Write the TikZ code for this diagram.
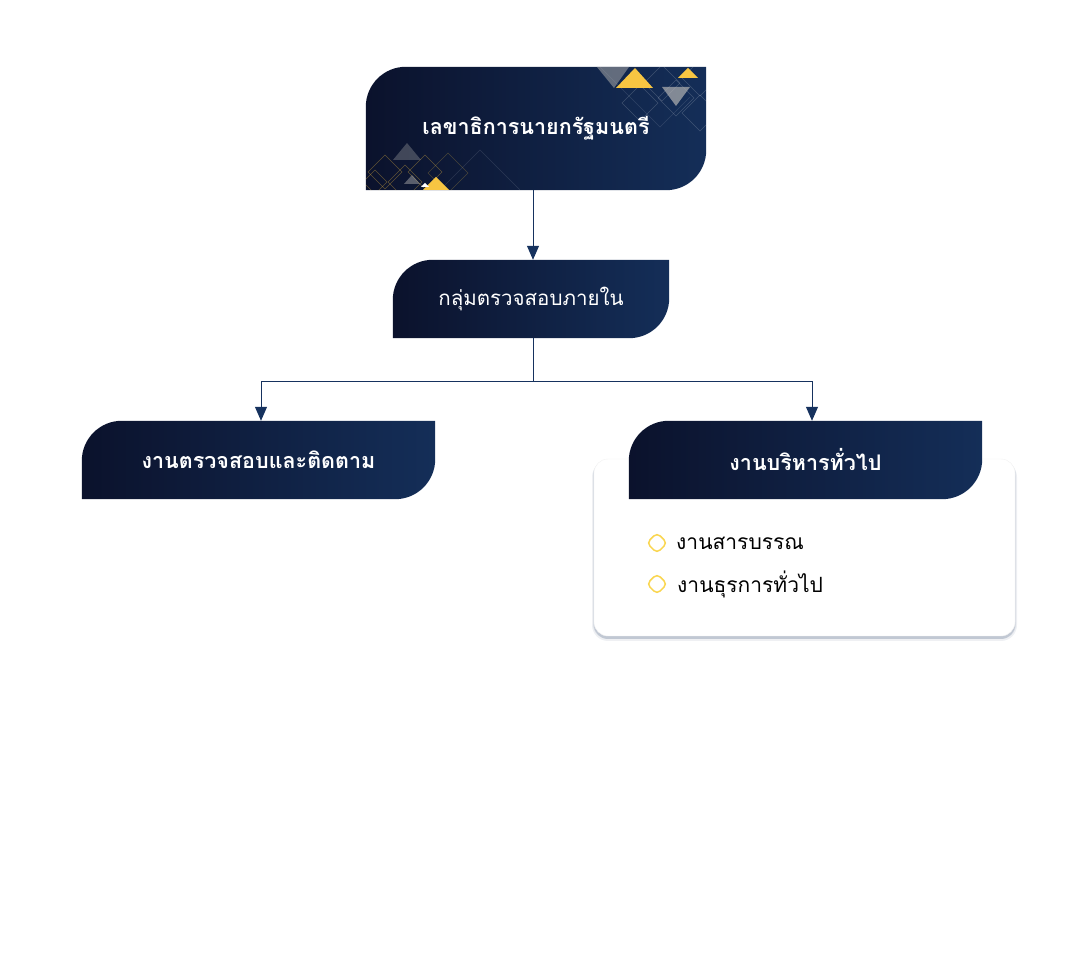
\documentclass[tikz,border=0pt]{standalone}
\usepackage{fontspec}
\newfontfamily\thaifont[Script=Thai]{Loma}
\usepackage{tikz}
\usetikzlibrary{arrows.meta,shapes.geometric,shadows}
\definecolor{navydark}{RGB}{11,18,44}
\definecolor{navylight}{RGB}{20,46,88}
\definecolor{linkblue}{RGB}{22,50,94}
\definecolor{goldtri}{RGB}{247,197,66}
\definecolor{bulletgold}{RGB}{250,214,80}
\definecolor{shadowgray}{RGB}{120,135,160}
\tikzstyle{arrow} = [-{Triangle[length=14pt,width=12pt]},line width=1pt,color=linkblue]
\tikzstyle{tab} = [minimum height=78pt,inner sep=0pt,text=white,font=\thaifont\bfseries\fontsize{21.5}{26}\selectfont]
\tikzstyle{item} = [anchor=west,inner sep=0pt,font=\thaifont\fontsize{21}{25}\selectfont]
\tikzstyle{dot} = [diamond,draw=bulletgold,line width=1.5pt,rounded corners=4.5pt,minimum size=21pt,inner sep=0pt]
\tikzstyle{pattern} = [line width=0.5pt]

\pgfdeclarelayer{cards}
\pgfdeclarelayer{tabs}
\pgfsetlayers{cards,tabs,main}

% tab outline: rounded top left and bottom right
\newcommand{\tabpath}[2]{(#1.south west) -- ([yshift=-#2]#1.north west)
  arc[start angle=180,end angle=90,radius=#2] -- (#1.north east)
  -- ([yshift=#2]#1.south east) arc[start angle=0,end angle=-90,radius=#2] -- cycle}

\begin{document}
\begin{tikzpicture}[x=1pt,y=1pt]
\useasboundingbox (0,0) rectangle (1080,965);

% Boxes
\node[tab, minimum width=340pt, minimum height=123pt] (sec) at (536,836.5) {เลขาธิการนายกรัฐมนตรี};
\node[tab, minimum width=276pt, font=\thaifont\fontsize{20.5}{25}\selectfont] (audit) at (531,666) {กลุ่มตรวจสอบภายใน};
\node[tab, minimum width=353pt] (follow) at (258.5,505) {งานตรวจสอบและติดตาม};
\node[tab, minimum width=353pt] (admin) at (805.5,505) {งานบริหารทั่วไป};

% Card under the admin box
\begin{pgfonlayer}{cards}
\fill[shadowgray, opacity=0.12, rounded corners=16pt] (592,324) rectangle (1017,504);
\fill[shadowgray, opacity=0.18, rounded corners=15pt] (593,326) rectangle (1016,505);
\fill[white, draw=black!5, rounded corners=14pt, drop shadow={shadow xshift=0pt, shadow yshift=-3pt, opacity=0.25, fill=shadowgray}] (594,329) rectangle (1015,506);
\end{pgfonlayer}

% Fills
\begin{pgfonlayer}{tabs}
\shade[left color=navydark, right color=navylight] \tabpath{sec}{40pt};
\shade[left color=navydark, right color=navylight] \tabpath{audit}{40pt};
\shade[left color=navydark, right color=navylight] \tabpath{follow}{40pt};
\shade[left color=navydark, right color=navylight] \tabpath{admin}{40pt};

% Triangles on the top box
\begin{scope}
\clip \tabpath{sec}{40pt};
\draw[pattern, white, opacity=0.18] (640,880) -- (658,862) -- (640,844) -- (622,862) -- cycle;
\draw[pattern, white, opacity=0.18] (676,885) -- (694,867) -- (676,849) -- (658,867) -- cycle;
\draw[pattern, white, opacity=0.18] (700,870) -- (718,852) -- (700,834) -- (682,852) -- cycle;
\draw[pattern, white, opacity=0.18] (662,900) -- (680,882) -- (662,864) -- (644,882) -- cycle;
\draw[pattern, white, opacity=0.18] (700,905) -- (718,887) -- (700,869) -- (682,887) -- cycle;
\draw[pattern, white, opacity=0.12] (600,898) -- (660,838) -- (690,868);
\fill[gray!70, opacity=0.55] (597,898) -- (629,898) -- (614,877) -- cycle;
\fill[gray!60, opacity=0.7] (662,878) -- (690,878) -- (676,859) -- cycle;
\fill[goldtri] (635,897) -- (653,877) -- (616,877) -- cycle;
\fill[goldtri] (688,897) -- (698,887) -- (678,887) -- cycle;
\draw[pattern, goldtri, opacity=0.35] (385,810) -- (402,793) -- (385,776) -- (368,793) -- cycle;
\draw[pattern, goldtri, opacity=0.35] (405,800) -- (422,783) -- (405,766) -- (388,783) -- cycle;
\draw[pattern, goldtri, opacity=0.35] (425,810) -- (442,793) -- (425,776) -- (408,793) -- cycle;
\draw[pattern, goldtri, opacity=0.25] (448,812) -- (468,792) -- (448,772) -- (428,792) -- cycle;
\draw[pattern, goldtri, opacity=0.35] (375,795) -- (387,783) -- (375,771) -- (363,783) -- cycle;
\draw[pattern, white, opacity=0.12] (440,775) -- (480,815) -- (520,775);
\fill[gray!70, opacity=0.35] (407,822) -- (421,805) -- (393,805) -- cycle;
\fill[gray!70, opacity=0.5] (412,790) -- (420,781) -- (404,781) -- cycle;
\fill[goldtri] (436,788) -- (449,775) -- (423,775) -- cycle;
\fill[white] (425,782) -- (429,778) -- (421,778) -- cycle;
\end{scope}
\end{pgfonlayer}

% Connectors
\draw[arrow] ([xshift=-3pt]sec.south) -- ([xshift=2pt]audit.north);
\coordinate (split) at ([xshift=2pt,yshift=-43pt]audit.south);
\draw[line width=1pt, linkblue] ([xshift=2pt]audit.south) -- (split);
\draw[arrow] (split) -| ([xshift=2.5pt]follow.north);
\draw[arrow] (split) -| ([xshift=6.5pt]admin.north);

% List in the card
\node[dot] (dot1) at (657,422) {};
\node[item] (mail) at (676,422) {งานสารบรรณ};
\node[dot] (dot2) at (657,381) {};
\node[item] (office) at (677,381) {งานธุรการทั่วไป};
\end{tikzpicture}
\end{document}
